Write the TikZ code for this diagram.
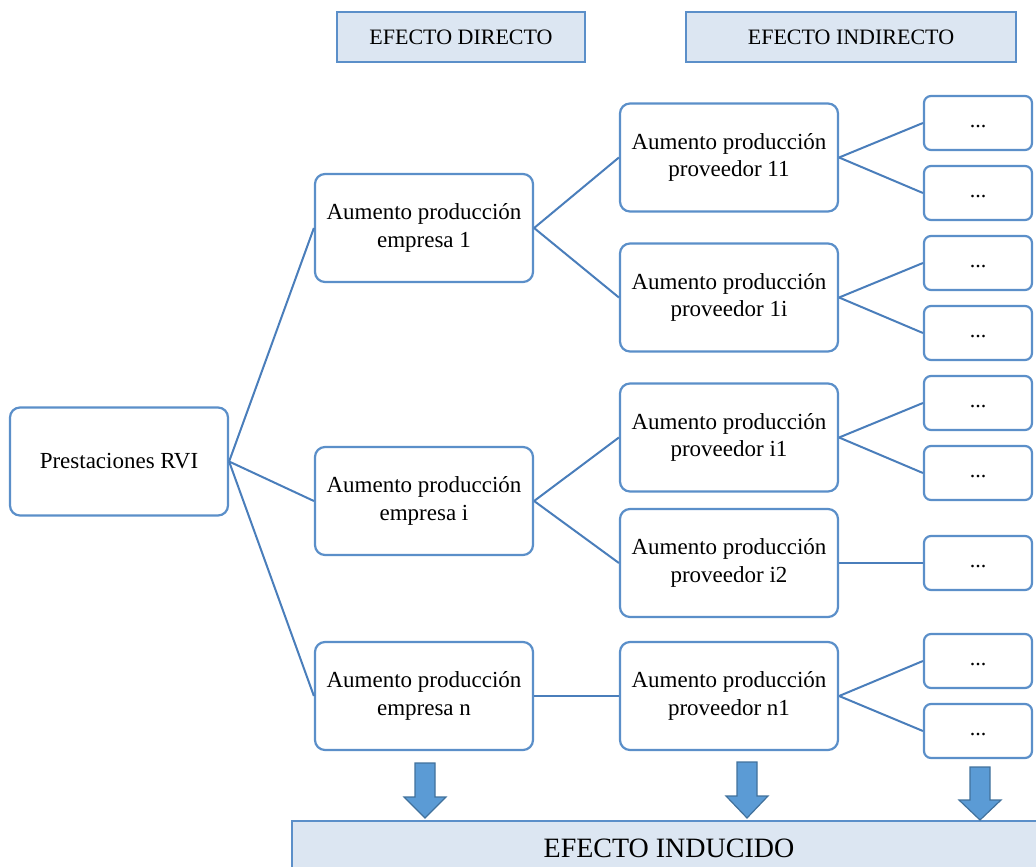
\documentclass[tikz,border=0pt]{standalone}
\usepackage{fontspec}
\setmainfont{Liberation Serif}
\definecolor{bordc}{HTML}{5B8FC9}
\definecolor{fillc}{HTML}{DCE6F2}
\definecolor{linec}{HTML}{4A7EBB}
\definecolor{arrf}{HTML}{5B9BD5}
\definecolor{arrd}{HTML}{41719C}
\tikzset{
  box/.style={draw=bordc, line width=2.2pt, rounded corners=10pt, fill=white,
    minimum width=218pt, minimum height=108pt, align=center, inner sep=0pt,
    font=\fontsize{23}{27.5}\selectfont},
  small/.style={draw=bordc, line width=2.2pt, rounded corners=7pt, fill=white,
    minimum width=108pt, minimum height=54pt, inner sep=0pt,
    font=\fontsize{22}{24}\selectfont},
  dots/.style={font=\fontsize{22}{24}\selectfont, inner sep=0pt},
  head/.style={draw=bordc, line width=2.2pt, fill=fillc, inner sep=0pt,
    minimum height=50pt, font=\fontsize{22}{24}\selectfont},
  conn/.style={draw=linec, line width=2pt},
  blockarrow/.style={fill=arrf, draw=arrd, line width=1.2pt, line join=miter}
}
\newcommand{\barrow}[4]{% cx, top, headbase, tip
  \path[blockarrow] (#1-10,#2) -- (#1+10,#2) -- (#1+10,#3) -- (#1+21,#3) -- (#1,#4) -- (#1-21,#3) -- (#1-10,#3) -- cycle;}
\newcommand{\smallbox}[3]{% name, x, y
  \node[small] (#1) at (#2,#3) {};
  \node[dots] (#1t) at (#2,#3+4) {...};}
\begin{document}
\begin{tikzpicture}[x=1pt,y=-1pt]
\useasboundingbox (0,0) rectangle (1036,867);
\begin{scope}
\clip (0,0) rectangle (1036,867);
% headers
\node[head, minimum width=248pt] (hd) at (461,37) {EFECTO DIRECTO};
\node[head, minimum width=330pt] (hi) at (851,37) {EFECTO INDIRECTO};
% main boxes
\node[box] (rvi) at (119,461.5) {Prestaciones RVI};
\node[box] (e1) at (424,228) {Aumento producción\\empresa 1};
\node[box] (ei) at (424,501) {Aumento producción\\empresa i};
\node[box] (en) at (424,696) {Aumento producción\\empresa n};
\node[box] (p11) at (729,157.5) {Aumento producción\\proveedor 11};
\node[box] (p1i) at (729,297.5) {Aumento producción\\proveedor 1i};
\node[box] (pi1) at (729,437.5) {Aumento producción\\proveedor i1};
\node[box] (pi2) at (729,563) {Aumento producción\\proveedor i2};
\node[box] (pn1) at (729,696) {Aumento producción\\proveedor n1};
% small boxes
\smallbox{s1}{978}{123}
\smallbox{s2}{978}{193}
\smallbox{s3}{978}{263}
\smallbox{s4}{978}{333}
\smallbox{s5}{978}{403}
\smallbox{s6}{978}{473}
\smallbox{s7}{978}{563}
\smallbox{s8}{978}{661}
\smallbox{s9}{978}{731}
% connectors
\path[conn] (rvi.east) -- (e1.west);
\path[conn] (rvi.east) -- (ei.west);
\path[conn] (rvi.east) -- (en.west);
\path[conn] (e1.east) -- (p11.west);
\path[conn] (e1.east) -- (p1i.west);
\path[conn] (ei.east) -- (pi1.west);
\path[conn] (ei.east) -- (pi2.west);
\path[conn] (en.east) -- (pn1.west);
\path[conn] (p11.east) -- (s1.west);
\path[conn] (p11.east) -- (s2.west);
\path[conn] (p1i.east) -- (s3.west);
\path[conn] (p1i.east) -- (s4.west);
\path[conn] (pi1.east) -- (s5.west);
\path[conn] (pi1.east) -- (s6.west);
\path[conn] (pi2.east) -- (s7.west);
\path[conn] (pn1.east) -- (s8.west);
\path[conn] (pn1.east) -- (s9.west);
% bottom
\node[head, minimum width=760pt, minimum height=70pt, anchor=north west] (ind) at (291,820) {};
\node[font=\fontsize{28}{30}\selectfont, anchor=base] (indt) at (669,857) {EFECTO INDUCIDO};
\barrow{425}{763}{797}{818}
\barrow{747}{762}{796}{818}
\barrow{980}{767}{800}{820}
\end{scope}
\end{tikzpicture}
\end{document}
